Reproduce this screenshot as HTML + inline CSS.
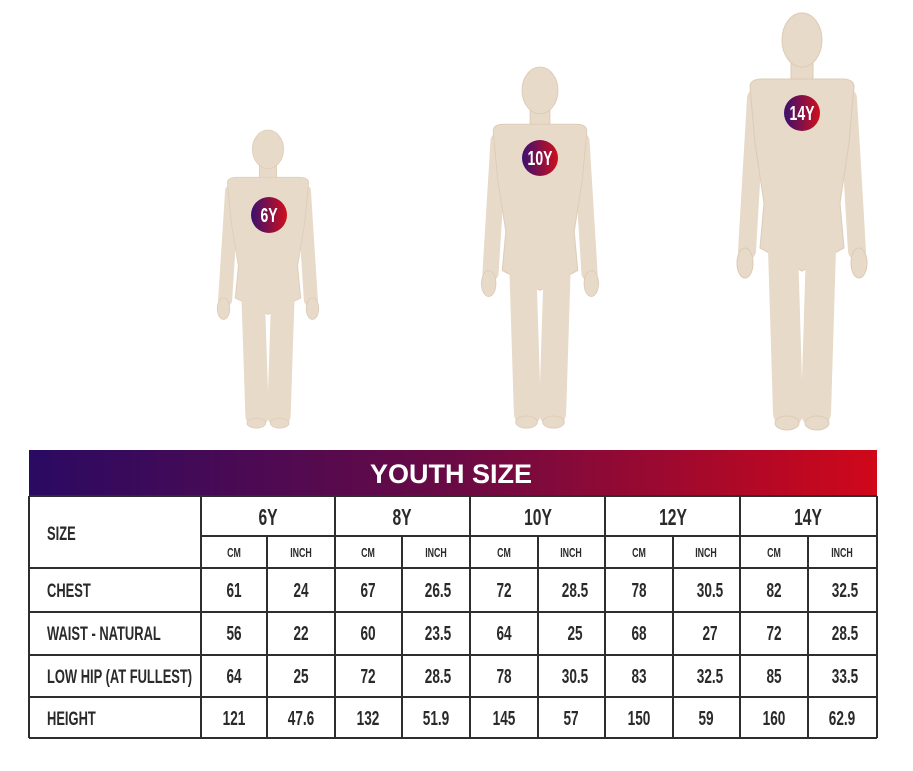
<!DOCTYPE html>
<html><head><meta charset="utf-8"><style>
html,body{margin:0;padding:0;background:#fff;}
svg{display:block;}
text{font-family:"Liberation Sans",sans-serif;fill:#2a2a2a;font-weight:bold;}
</style></head><body>
<svg width="913" height="771" viewBox="0 0 913 771" xmlns="http://www.w3.org/2000/svg">
<defs>
<linearGradient id="bg" x1="0" x2="1" y1="0" y2="0">
<stop offset="0" stop-color="#2a0a62"/><stop offset="0.5" stop-color="#6a0a45"/><stop offset="1" stop-color="#d0081a"/>
</linearGradient>
<linearGradient id="badge" x1="0" x2="1" y1="0" y2="0">
<stop offset="0" stop-color="#3a1070"/><stop offset="1" stop-color="#d0101c"/>
</linearGradient>
<g id="fig">
<g fill="#e8dac8" stroke="#dccbb6" stroke-width="1">
<line x1="-46" y1="85" x2="-55" y2="238" stroke="#e8dac8" stroke-width="18" stroke-linecap="round"/>
<line x1="46" y1="85" x2="55" y2="238" stroke="#e8dac8" stroke-width="18" stroke-linecap="round"/>
<ellipse cx="-57" cy="250" rx="8" ry="15"/>
<ellipse cx="57" cy="250" rx="8" ry="15"/>
<rect x="-11" y="45" width="22" height="25"/>
<path d="M-52 74 Q-52 66 -40 66 L40 66 Q52 66 52 74 L47 130 L38 190 L42 235 L0 258 L-42 235 L-38 190 L-47 130 Z"/>
<line x1="-19" y1="235" x2="-14" y2="400" stroke="#e8dac8" stroke-width="30" stroke-linecap="round"/>
<line x1="19" y1="235" x2="14" y2="400" stroke="#e8dac8" stroke-width="30" stroke-linecap="round"/>
<ellipse cx="-15" cy="410" rx="12" ry="7"/>
<ellipse cx="15" cy="410" rx="12" ry="7"/>
<ellipse cx="0" cy="27" rx="20" ry="27"/>
</g>
</g>
</defs>

<use href="#fig" transform="translate(268,130) scale(0.78,0.715)"/>
<use href="#fig" transform="translate(540,67) scale(0.9,0.866)"/>
<use href="#fig" transform="translate(802,13) scale(1,1)"/>

<circle cx="269" cy="215" r="18" fill="url(#badge)"/>
<text transform="translate(269,222) scale(.7,1)" text-anchor="middle" font-size="20" style="fill:#fff">6Y</text>
<circle cx="540" cy="158" r="18" fill="url(#badge)"/>
<text transform="translate(540,165) scale(.7,1)" text-anchor="middle" font-size="20" style="fill:#fff">10Y</text>
<circle cx="802" cy="113" r="18" fill="url(#badge)"/>
<text transform="translate(802,120) scale(.7,1)" text-anchor="middle" font-size="20" style="fill:#fff">14Y</text>

<rect x="29" y="450" width="848" height="46" fill="url(#bg)"/>
<text x="451" y="483" text-anchor="middle" font-size="27" style="fill:#fff">YOUTH SIZE</text>

<g stroke="#2e2e2e" stroke-width="2">
<line x1="29" y1="496" x2="877" y2="496"/>
<line x1="201" y1="536" x2="877" y2="536"/>
<line x1="29" y1="568" x2="877" y2="568"/>
<line x1="29" y1="612" x2="877" y2="612"/>
<line x1="29" y1="655" x2="877" y2="655"/>
<line x1="29" y1="697" x2="877" y2="697"/>
<line x1="29" y1="738" x2="877" y2="738"/>
<line x1="29" y1="496" x2="29" y2="738"/>
<line x1="201" y1="496" x2="201" y2="738"/>
<line x1="335" y1="496" x2="335" y2="738"/>
<line x1="470" y1="496" x2="470" y2="738"/>
<line x1="605" y1="496" x2="605" y2="738"/>
<line x1="740" y1="496" x2="740" y2="738"/>
<line x1="877" y1="496" x2="877" y2="738"/>
<line x1="267" y1="536" x2="267" y2="738"/>
<line x1="402" y1="536" x2="402" y2="738"/>
<line x1="538" y1="536" x2="538" y2="738"/>
<line x1="673" y1="536" x2="673" y2="738"/>
<line x1="808" y1="536" x2="808" y2="738"/>
</g>

<g font-size="19">
<text transform="translate(47,540) scale(.68,1)">SIZE</text>
<text transform="translate(47,597) scale(.68,1)">CHEST</text>
<text transform="translate(47,640) scale(.68,1)">WAIST - NATURAL</text>
<text transform="translate(47,683) scale(.68,1)">LOW HIP (AT FULLEST)</text>
<text transform="translate(47,725) scale(.68,1)">HEIGHT</text>
</g>
<g font-size="23" text-anchor="middle" style="font-weight:normal">
<text transform="translate(268,525) scale(.68,1)">6Y</text>
<text transform="translate(402,525) scale(.68,1)">8Y</text>
<text transform="translate(538,525) scale(.68,1)">10Y</text>
<text transform="translate(673,525) scale(.68,1)">12Y</text>
<text transform="translate(808,525) scale(.68,1)">14Y</text>
</g>
<g font-size="13" text-anchor="middle">
<text transform="translate(234,557) scale(.68,1)">CM</text><text transform="translate(301,557) scale(.68,1)">INCH</text>
<text transform="translate(368,557) scale(.68,1)">CM</text><text transform="translate(436,557) scale(.68,1)">INCH</text>
<text transform="translate(504,557) scale(.68,1)">CM</text><text transform="translate(571,557) scale(.68,1)">INCH</text>
<text transform="translate(639,557) scale(.68,1)">CM</text><text transform="translate(706,557) scale(.68,1)">INCH</text>
<text transform="translate(774,557) scale(.68,1)">CM</text><text transform="translate(842,557) scale(.68,1)">INCH</text>
</g>
<g font-size="20" text-anchor="middle">
<text transform="translate(234,597) scale(.68,1)">61</text><text transform="translate(301,597) scale(.68,1)">24</text><text transform="translate(368,597) scale(.68,1)">67</text><text transform="translate(438,597) scale(.68,1)">26.5</text><text transform="translate(504,597) scale(.68,1)">72</text><text transform="translate(575,597) scale(.68,1)">28.5</text><text transform="translate(639,597) scale(.68,1)">78</text><text transform="translate(710,597) scale(.68,1)">30.5</text><text transform="translate(774,597) scale(.68,1)">82</text><text transform="translate(845,597) scale(.68,1)">32.5</text>
<text transform="translate(234,640) scale(.68,1)">56</text><text transform="translate(301,640) scale(.68,1)">22</text><text transform="translate(368,640) scale(.68,1)">60</text><text transform="translate(438,640) scale(.68,1)">23.5</text><text transform="translate(504,640) scale(.68,1)">64</text><text transform="translate(575,640) scale(.68,1)">25</text><text transform="translate(639,640) scale(.68,1)">68</text><text transform="translate(710,640) scale(.68,1)">27</text><text transform="translate(774,640) scale(.68,1)">72</text><text transform="translate(845,640) scale(.68,1)">28.5</text>
<text transform="translate(234,683) scale(.68,1)">64</text><text transform="translate(301,683) scale(.68,1)">25</text><text transform="translate(368,683) scale(.68,1)">72</text><text transform="translate(438,683) scale(.68,1)">28.5</text><text transform="translate(504,683) scale(.68,1)">78</text><text transform="translate(575,683) scale(.68,1)">30.5</text><text transform="translate(639,683) scale(.68,1)">83</text><text transform="translate(710,683) scale(.68,1)">32.5</text><text transform="translate(774,683) scale(.68,1)">85</text><text transform="translate(845,683) scale(.68,1)">33.5</text>
<text transform="translate(234,725) scale(.68,1)">121</text><text transform="translate(301,725) scale(.68,1)">47.6</text><text transform="translate(368,725) scale(.68,1)">132</text><text transform="translate(436,725) scale(.68,1)">51.9</text><text transform="translate(504,725) scale(.68,1)">145</text><text transform="translate(571,725) scale(.68,1)">57</text><text transform="translate(639,725) scale(.68,1)">150</text><text transform="translate(706,725) scale(.68,1)">59</text><text transform="translate(774,725) scale(.68,1)">160</text><text transform="translate(842,725) scale(.68,1)">62.9</text>
</g>
</svg>
</body></html>
